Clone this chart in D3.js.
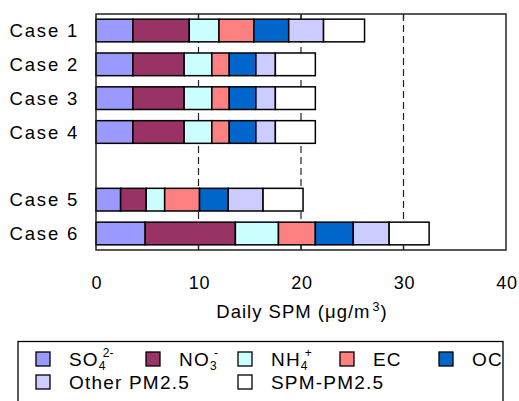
<!DOCTYPE html>
<html>
<head>
<meta charset="utf-8">
<script src="https://cdn.jsdelivr.net/npm/d3@7"></script>
<style>
  body { margin: 0; background: #fff; }
</style>
</head>
<body>
<div id="chart"></div>
<script>
// chart values
const cases = ["Case 1", "Case 2", "Case 3", "Case 4", "Case 5", "Case 6"];
const rows = ["Case 1", "Case 2", "Case 3", "Case 4", "gap", "Case 5", "Case 6"];
const so4 = [3.6, 3.6, 3.6, 3.6, 2.4, 4.8];
const no3 = [5.5, 5.0, 5.0, 5.0, 2.5, 8.8];
const nh4 = [2.9, 2.7, 2.7, 2.7, 1.8, 4.2];
const ec = [3.4, 1.7, 1.7, 1.7, 3.4, 3.6];
const oc = [3.4, 2.6, 2.6, 2.6, 2.8, 3.7];
const otherPm = [3.4, 1.9, 1.9, 1.9, 3.4, 3.5];
const spmPm = [4.0, 3.9, 3.9, 3.9, 3.9, 3.9];
const xTicks = [0, 10, 20, 30, 40];

const keys = ["so4", "no3", "nh4", "ec", "oc", "other", "spm"];
const colors = ["#9999ff", "#993366", "#ccffff", "#ff8080", "#0066cc", "#ccccff", "#ffffff"];

const table = cases.map((c, i) => ({
  name: c, so4: so4[i], no3: no3[i], nh4: nh4[i], ec: ec[i],
  oc: oc[i], other: otherPm[i], spm: spmPm[i]
}));

const W = 519, H = 401;
const plot = { left: 96, right: 506, top: 14, bottom: 250 };

const svg = d3.select("#chart").append("svg")
  .attr("width", W).attr("height", H)
  .attr("font-family", "'Liberation Sans', Arial, sans-serif");

const x = d3.scaleLinear().domain([0, 40]).range([plot.left, plot.right]);
const y = d3.scaleBand().domain(rows).range([plot.top, plot.bottom])
  .paddingInner(0.33).paddingOuter(0.153);

// dashed gridlines
svg.append("g").selectAll("line")
  .data(xTicks.slice(1, -1)).enter().append("line")
  .attr("x1", d => x(d)).attr("x2", d => x(d))
  .attr("y1", plot.top).attr("y2", plot.bottom)
  .attr("stroke", "#222").attr("stroke-width", 1.2)
  .attr("stroke-dasharray", "7,4");

// stacked bars
const stacked = d3.stack().keys(keys)(table);
svg.append("g").selectAll("g")
  .data(stacked).enter().append("g")
  .attr("fill", (d, i) => colors[i])
  .selectAll("rect")
  .data(d => d).enter().append("rect")
  .attr("x", d => x(d[0]))
  .attr("y", d => y(d.data.name))
  .attr("width", d => x(d[1]) - x(d[0]))
  .attr("height", y.bandwidth())
  .attr("stroke", "#000").attr("stroke-width", 1.5);

// frame
svg.append("rect")
  .attr("x", plot.left).attr("y", plot.top)
  .attr("width", plot.right - plot.left).attr("height", plot.bottom - plot.top)
  .attr("fill", "none").attr("stroke", "#222").attr("stroke-width", 1.5);

// inner ticks top and bottom
const tk = svg.append("g");
xTicks.slice(1, -1).forEach(t => {
  tk.append("line").attr("x1", x(t)).attr("x2", x(t))
    .attr("y1", plot.top).attr("y2", plot.top + 5)
    .attr("stroke", "#222").attr("stroke-width", 1.3);
  tk.append("line").attr("x1", x(t)).attr("x2", x(t))
    .attr("y1", plot.bottom).attr("y2", plot.bottom - 6)
    .attr("stroke", "#222").attr("stroke-width", 1.3);
});

// x tick labels
svg.append("g").selectAll("text")
  .data(xTicks).enter().append("text")
  .attr("x", d => x(d) + 1).attr("y", 289)
  .attr("text-anchor", "middle")
  .style("font-size", "18px")
  .style("letter-spacing", "0.8px")
  .text(d => d);

// case labels
svg.append("g").selectAll("text")
  .data(cases).enter().append("text")
  .attr("x", 79)
  .attr("y", d => y(d) + y.bandwidth() / 2 + 6.5)
  .attr("text-anchor", "end")
  .style("font-size", "18.5px")
  .style("letter-spacing", "1.8px")
  .text(d => d);

// axis title
const title = svg.append("text")
  .attr("x", 302).attr("y", 318)
  .attr("text-anchor", "middle")
  .style("font-size", "18.5px")
  .style("letter-spacing", "1px");
title.append("tspan").text("Daily SPM (");
title.append("tspan").text("μ");
title.append("tspan").text("g/m");
title.append("tspan").attr("dy", -7).attr("dx", 2).style("font-size", "12.5px").text("3");
title.append("tspan").attr("dy", 7).text(")");

// legend
svg.append("rect")
  .attr("x", 18).attr("y", 341.5)
  .attr("width", 485).attr("height", 80)
  .attr("fill", "none").attr("stroke", "#000").attr("stroke-width", 1.3);

const legendItems = [
  { k: 0, x: 36, y: 359, label: [["SO", 0], ["4", 1], ["2-", -1]] },
  { k: 1, x: 146, y: 359, label: [["NO", 0], ["3", 1], ["-", -1]] },
  { k: 2, x: 238, y: 359, label: [["NH", 0], ["4", 1], ["+", -1]] },
  { k: 3, x: 340, y: 359, label: [["EC", 0]] },
  { k: 4, x: 439, y: 359, label: [["OC", 0]] },
  { k: 5, x: 36, y: 382, label: [["Other PM2.5", 0]] },
  { k: 6, x: 238, y: 382, label: [["SPM-PM2.5", 0]] }
];

const lg = svg.append("g");
legendItems.forEach(it => {
  lg.append("rect")
    .attr("x", it.x).attr("y", it.y - 7)
    .attr("width", 14).attr("height", 14)
    .attr("fill", colors[it.k]).attr("stroke", "#000").attr("stroke-width", 1.3);
  const t = lg.append("text")
    .attr("x", it.x + 33).attr("y", it.y + 6.5)
    .style("font-size", "19px")
    .style("letter-spacing", "1.2px");
  let prev = 0;
  let subW = 0;
  it.label.forEach(([s, pos]) => {
    const ts = t.append("tspan").text(s);
    if (pos === 1) {
      ts.attr("dy", 4 - prev).style("font-size", "12px").style("letter-spacing", "0px");
      prev = 4;
      subW = s.length * 6.7;
    } else if (pos === -1) {
      ts.attr("dy", -9 - prev).attr("dx", -subW * 0.4).style("font-size", "12px").style("letter-spacing", "0px");
      prev = -9;
    } else {
      ts.attr("dy", -prev);
      prev = 0;
    }
  });
});
</script>
</body>
</html>
